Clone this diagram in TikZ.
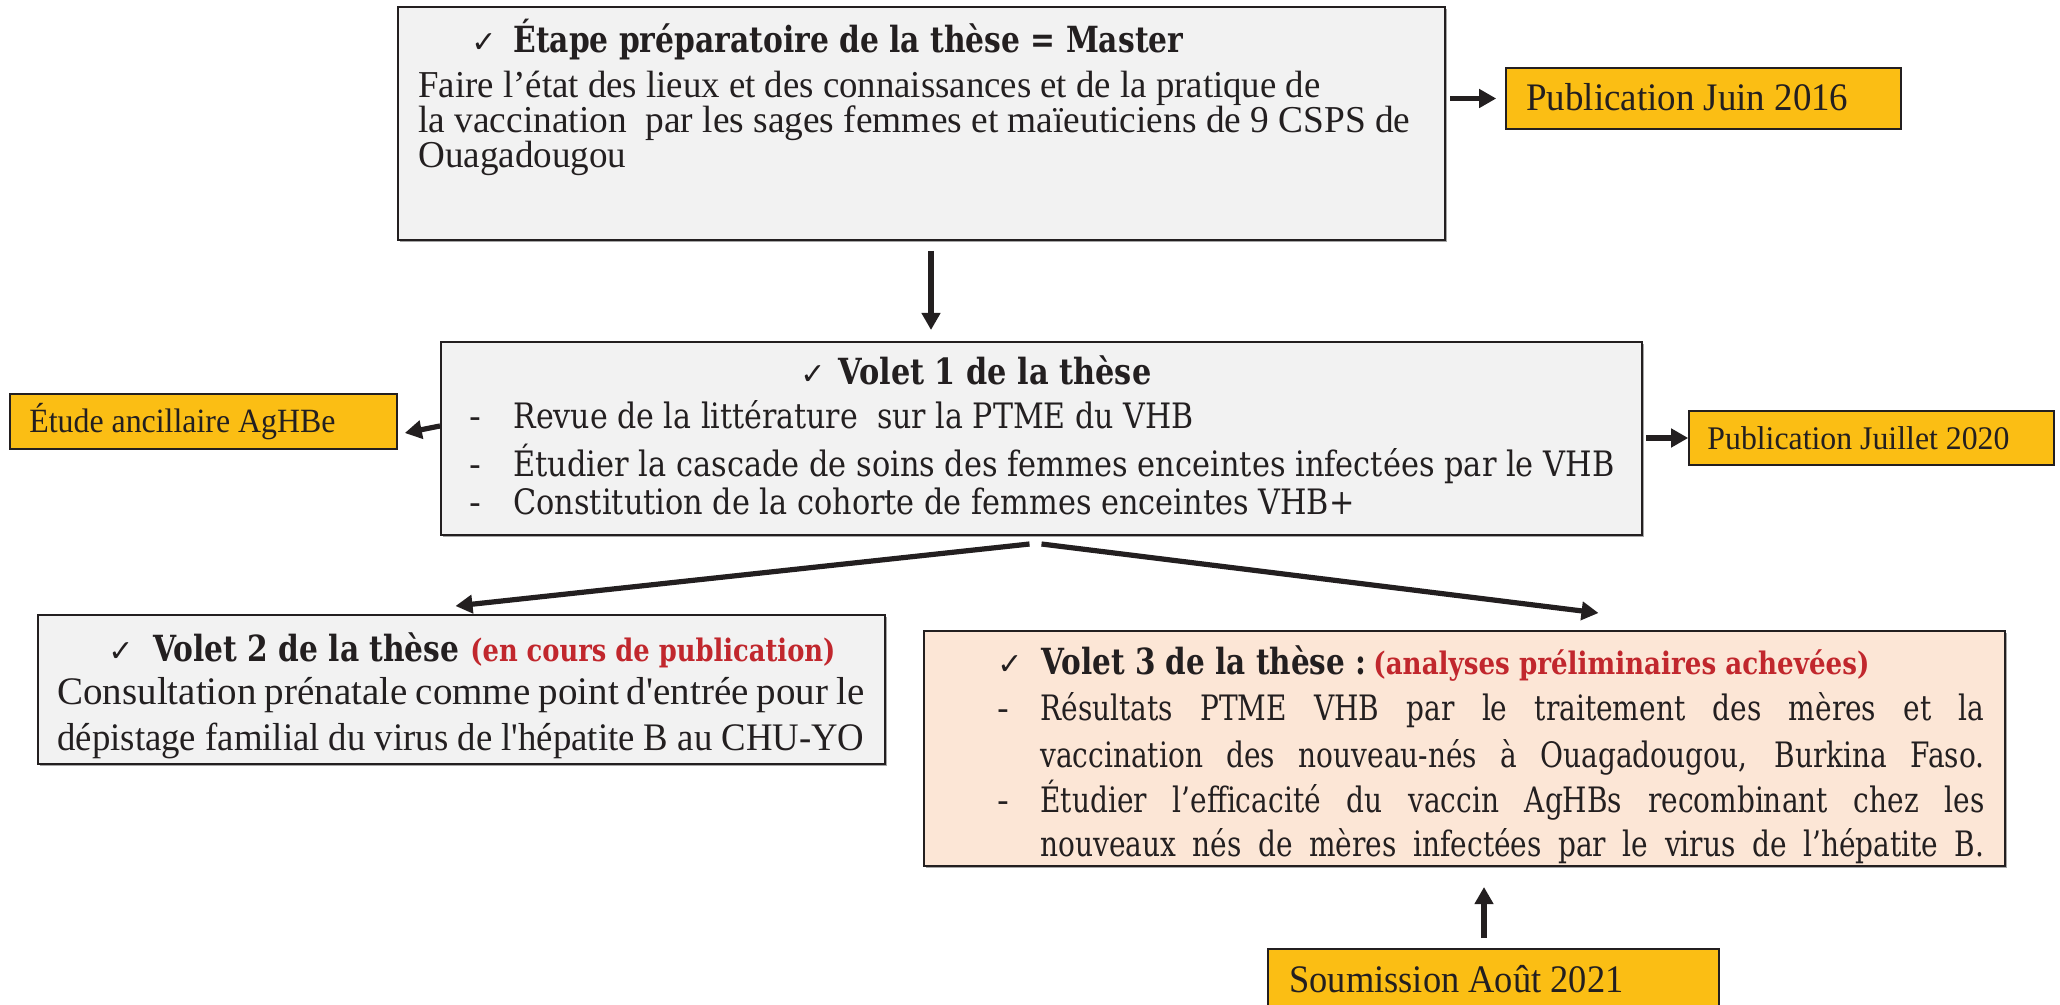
\documentclass[tikz,border=0pt]{standalone}
\usepackage{fontspec}
\setmainfont{Liberation Serif}
\newfontfamily\tnrs[Ligatures=TeXOff]{Liberation Serif}
\newfontfamily\camb{DejaVu Serif}
\newfontfamily\cambc[FakeStretch=0.8]{DejaVu Serif}
\newfontfamily\chkfont{DejaVu Sans}
\usetikzlibrary{fit,arrows.meta,calc,shadows}
\definecolor{boxgray}{HTML}{F2F2F2}
\definecolor{peach}{HTML}{FCE6D6}
\definecolor{gold}{HTML}{FBBE14}
\definecolor{ink}{HTML}{231F20}
\definecolor{redtxt}{HTML}{C1272D}
\newcommand\fitw[2]{\resizebox{#1}{\height}{#2}}
\newcommand\chk{{\chkfont\fontsize{15pt}{15pt}\selectfont ✓}}
\tikzset{
  panel/.style={draw=ink, line width=1pt, inner sep=0pt,
    drop shadow={shadow xshift=0.8pt, shadow yshift=-0.8pt, fill=black, opacity=0.35}},
  graybox/.style={panel, fill=boxgray},
  peachbox/.style={panel, fill=peach},
  goldbox/.style={draw=ink, line width=0.8pt, fill=gold, inner sep=0pt,
    drop shadow={shadow xshift=0.7pt, shadow yshift=-0.7pt, fill=black, opacity=0.3}},
  txt/.style={anchor=base west, inner sep=0pt, text=ink},
  arr/.style={draw=ink, line width=2.6pt, -{Triangle[length=8.5pt,width=9pt]}},
  tnr/.style={font=\fontsize{#1}{#1}\selectfont},
  cmb/.style={font=\fontsize{#1}{#1}\camb},
  cmbb/.style={font=\fontsize{#1}{#1}\camb\bfseries},
  cmbc/.style={font=\fontsize{#1}{#1}\cambc},
}
\begin{document}
\begin{tikzpicture}[x=0.5pt,y=-0.5pt]
\clip (0,0) rectangle (2060,1005);
\fill[white] (0,0) rectangle (2060,1005);

% ---------- top box
\node[graybox, fit={(398,7) (1445,240)}] (top) {};
\node[txt, cmbb=18pt] (topH) at (471,53)
  {\makebox[21pt][l]{\chk}\fitw{335pt}{Étape préparatoire de la thèse = Master}};
\node[txt, tnr=19pt] (topL1) at (418,98)
  {\fitw{451pt}{Faire l’état des lieux et des connaissances et de la pratique de}};
\node[txt, tnr=19pt] (topL2) at (418,133)
  {\fitw{496pt}{la vaccination\ \ par les sages femmes et maïeuticiens de 9 CSPS de}};
\node[txt, tnr=19pt] (topL3) at (418,168)
  {\fitw{104pt}{Ouagadougou}};

% ---------- publication juin 2016
\node[goldbox, fit={(1506,68) (1901,129)}] (pubA) {};
\node[txt, tnr=19.5pt] (pubAt) at (1526,111)
  {\fitw{161pt}{Publication Juin 2016}};

% ---------- volet 1
\node[graybox, fit={(441,342) (1642,535)}] (v1) {};
\node[txt, cmbb=18pt] (v1H) at (800,385)
  {\makebox[19pt][l]{\chk}\fitw{156.5pt}{Volet 1 de la thèse}};
\node[txt, cmb=17.5pt] (v1d1) at (469,429) {-};
\node[txt, cmb=17.5pt] (v1L1) at (513,429)
  {\fitw{340pt}{Revue de la littérature\ \ sur la PTME du VHB}};
\node[txt, cmb=17.5pt] (v1d2) at (469,476) {-};
\node[txt, cmb=17.5pt] (v1L2) at (513,476)
  {\fitw{550.5pt}{Étudier la cascade de soins des femmes enceintes infectées par le VHB}};
\node[txt, cmb=17.5pt] (v1d3) at (469,514) {-};
\node[txt, cmb=17.5pt] (v1L3) at (513,514)
  {\fitw{420.5pt}{Constitution de la cohorte de femmes enceintes VHB+}};

% ---------- etude ancillaire
\node[goldbox, fit={(10,394) (397,449)}] (etude) {};
\node[txt, tnr=17pt] (etudet) at (29,432)
  {\fitw{153pt}{Étude ancillaire AgHBe}};

% ---------- publication juillet 2020
\node[goldbox, fit={(1689,411) (2054,465)}] (pubJ) {};
\node[txt, tnr=16.5pt] (pubJt) at (1707,450)
  {\fitw{151pt}{Publication Juillet 2020}};

% ---------- volet 2
\node[graybox, fit={(38,615) (885,764)}] (v2) {};
\node[txt, cmbb=18pt] (v2H) at (108,661)
  {\makebox[22.5pt][l]{\chk}\fitw{153pt}{Volet 2 de la thèse}\hspace{5.5pt}{\color{redtxt}\fontsize{15.5pt}{15.5pt}\selectfont\fitw{182.5pt}{(en cours de publication)}}};
\node[txt, font=\fontsize{19.5pt}{19.5pt}\tnrs] (v2L1) at (57,704)
  {\makebox[403.5pt][s]{Consultation prénatale comme point d'entrée pour le}};
\node[txt, font=\fontsize{19.5pt}{19.5pt}\tnrs] (v2L2) at (57,750)
  {\fitw{403.5pt}{dépistage familial du virus de l'hépatite B au CHU-YO}};

% ---------- volet 3
\node[peachbox, fit={(924,631) (2005,866)}] (v3) {};
\node[txt, cmbb=18pt] (v3H) at (997,674)
  {\makebox[22pt][l]{\chk}\fitw{162.5pt}{Volet 3 de la thèse :}\hspace{3.5pt}{\color{redtxt}\fontsize{15.5pt}{15.5pt}\selectfont\fitw{248pt}{(analyses préliminaires achevées)}}};
\node[txt, cmb=17.5pt] (v3d1) at (997,720) {-};
\node[txt, cmbc=17.5pt] (v3L1) at (1040,720)
  {\makebox[472pt][s]{Résultats PTME VHB par le traitement des mères et la}};
\node[txt, cmbc=17.5pt] (v3L2) at (1040,767)
  {\makebox[472pt][s]{vaccination des nouveau-nés à Ouagadougou, Burkina Faso.}};
\node[txt, cmb=17.5pt] (v3d2) at (997,812) {-};
\node[txt, cmbc=17.5pt] (v3L3) at (1040,812)
  {\makebox[472pt][s]{Étudier l’efficacité du vaccin AgHBs recombinant chez les}};
\node[txt, cmbc=17.5pt] (v3L4) at (1040,856)
  {\makebox[472pt][s]{nouveaux nés de mères infectées par le virus de l’hépatite B.}};

% ---------- soumission
\node[goldbox, fit={(1268,949) (1719,1040)}] (soum) {};
\node[txt, tnr=19.5pt] (soumt) at (1289,992)
  {\fitw{167pt}{Soumission Août 2021}};

% ---------- connectors
\draw[arr, shorten <=2pt, shorten >=4.5pt] (top.east |- pubA.west) -- (pubA.west);
\coordinate (dA) at ([xshift=4.75pt]top.south);
\draw[arr, shorten <=5pt, shorten >=5.5pt] (dA) -- (dA |- v1.north);
\draw[arr] ([yshift=6.25pt]v1.west) -- ([xshift=3.5pt,yshift=-5.75pt]etude.east);
\draw[arr, shorten <=1.5pt, shorten >=0pt] (v1.east |- pubJ.west) -- (pubJ.west);
\coordinate (split) at ([yshift=-4pt]v1.south);
\draw[arr] ([xshift=-6pt]split) -- ([xshift=-3pt,yshift=4pt]v2.north);
\draw[arr] (split) -- ([xshift=67pt,yshift=8.5pt]v3.north);
\coordinate (sA) at ([xshift=-4.75pt,yshift=5pt]soum.north);
\draw[arr] (sA) -- ([yshift=-10pt]sA |- v3.south);
\end{tikzpicture}
\end{document}
